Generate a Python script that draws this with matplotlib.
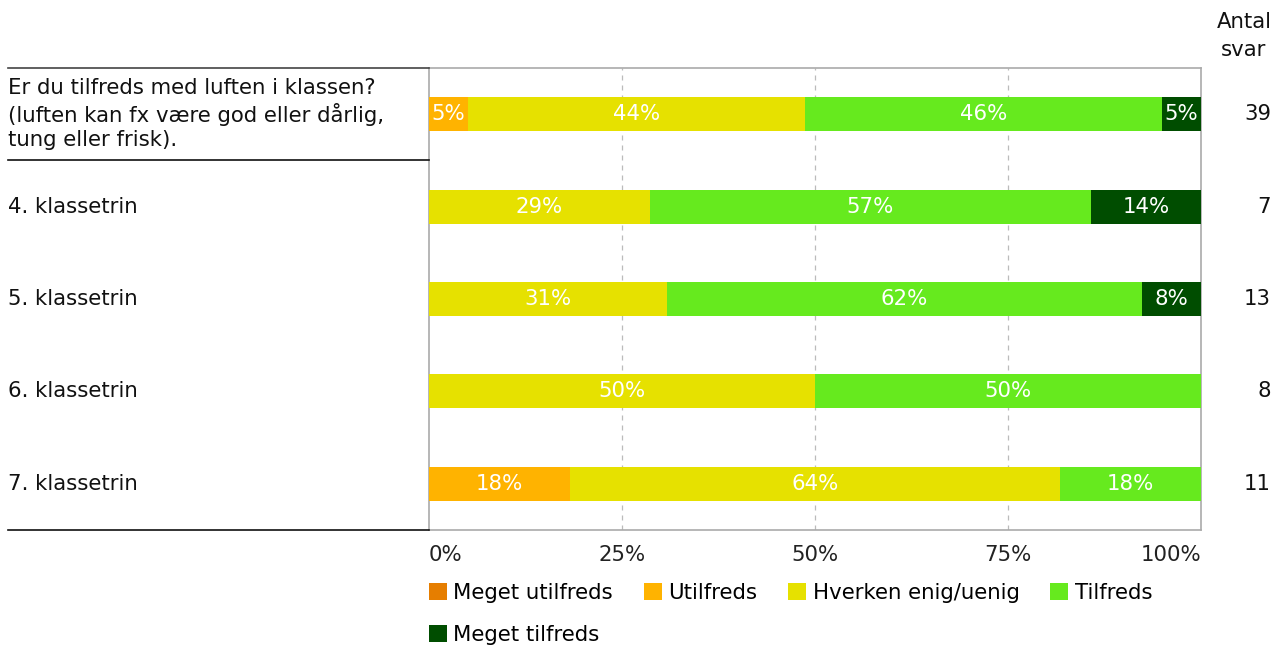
import matplotlib
matplotlib.use("Agg")
import matplotlib.pyplot as plt
import matplotlib.transforms as mtransforms
from matplotlib.patches import Patch
import numpy as np

plt.rcParams['font.family'] = ['DejaVu Sans']

categories = [
    "Er du tilfreds med luften i klassen?\n(luften kan fx være god eller dårlig,\ntung eller frisk).",
    "4. klassetrin",
    "5. klassetrin",
    "6. klassetrin",
    "7. klassetrin",
]
series_names = ["Meget utilfreds", "Utilfreds", "Hverken enig/uenig", "Tilfreds", "Meget tilfreds"]
colors = ["#E67E00", "#FFB300", "#E6E100", "#66EA1E", "#004D00"]

meget_utilfreds = [0.0, 0.0, 0.0, 0.0, 0.0]
utilfreds = [5.1, 0.0, 0.0, 0.0, 18.2]
hverken = [43.6, 28.6, 30.8, 50.0, 63.6]
tilfreds = [46.2, 57.1, 61.5, 50.0, 18.2]
meget_tilfreds = [5.1, 14.3, 7.7, 0.0, 0.0]
antal_svar = [39, 7, 13, 8, 11]

xticks = [0, 25, 50, 75, 100]
xticklabels = ["0%", "25%", "50%", "75%", "100%"]

W, H = 1276, 646
fig = plt.figure(figsize=(W / 100, H / 100), dpi=100)
ax = fig.add_axes([429 / W, 1 - 530 / H, (1201 - 429) / W, (530 - 68) / H])

series = [meget_utilfreds, utilfreds, hverken, tilfreds, meget_tilfreds]
y = np.arange(len(categories))
left = np.zeros(len(categories))
fs = 15.3
for vals, col in zip(series, colors):
    vals = np.array(vals)
    ax.barh(y, vals, left=left, height=0.37, color=col, zorder=3)
    for yi, (l, v) in enumerate(zip(left, vals)):
        if v > 0:
            ax.text(l + v / 2, yi, f"{v:.0f}%", ha="center", va="center",
                    color="white", fontsize=fs, zorder=4)
    left = left + vals

ax.set_xlim(0, 100)
ax.set_ylim(len(categories) - 0.5, -0.5)
ax.set_yticks([])
ax.set_xticks(xticks)
ax.set_xticklabels(xticklabels, fontsize=fs, color="#222222")
labs = ax.get_xticklabels()
labs[0].set_ha("left")
labs[-1].set_ha("right")
ax.tick_params(axis="x", length=0, pad=10.5)
for xv in xticks[1:-1]:
    ax.axvline(xv, color="#BBBBBB", linestyle=(0, (4, 4)), linewidth=0.9, zorder=1)
for s in ax.spines.values():
    s.set_color("#AAAAAA")
    s.set_linewidth(1.2)

trans = mtransforms.blended_transform_factory(fig.transFigure, ax.transData)
for yi, cat in enumerate(categories):
    fig.text(8 / W, yi, cat, transform=trans, ha="left", va="center",
             fontsize=fs, color="#111111", linespacing=1.27)
    fig.text(1271 / W, yi, str(antal_svar[yi]), transform=trans, ha="right",
             va="center", fontsize=fs, color="#111111")

fig.text(1244 / W, 1 - 36 / H, "Antal\nsvar", ha="center", va="center",
         fontsize=fs, color="#111111", linespacing=1.45)

# left separator lines
for yp, c in [(68, "#444444"), (160, "#111111"), (530, "#111111")]:
    fig.add_artist(plt.Line2D([8 / W, 429 / W], [1 - yp / H, 1 - yp / H],
                              color=c, linewidth=1.2, transform=fig.transFigure))

handles = [Patch(facecolor=c, edgecolor="none") for c in colors]
order = [0, 4, 1, 2, 3]
fig.legend([handles[i] for i in order], [series_names[i] for i in order],
           loc="upper left", ncol=4,
           bbox_to_anchor=(429 / W, 1 - 583 / H), frameon=False, fontsize=fs,
           handlelength=0.85, handleheight=0.85, handletextpad=0.3,
           columnspacing=1.45, labelspacing=1.03, borderaxespad=0, borderpad=0)

fig.savefig("out.png", dpi=100)
